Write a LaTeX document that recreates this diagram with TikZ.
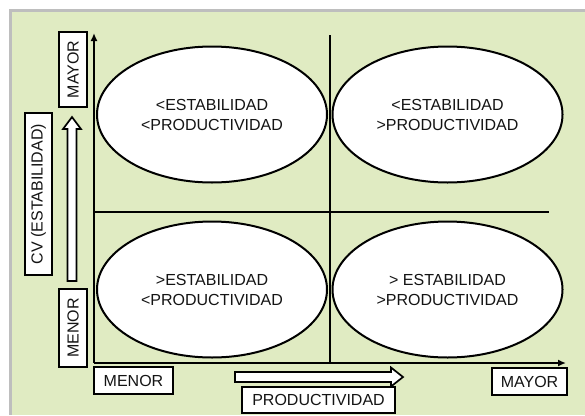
\documentclass[tikz,border=0pt]{standalone}
\usepackage{fontspec}
\setmainfont{Liberation Sans}
\usetikzlibrary{shapes.geometric,arrows.meta}
\definecolor{bggreen}{RGB}{224,235,194}
\definecolor{framegray}{RGB}{190,190,190}
\definecolor{txt}{RGB}{20,20,20}
\tikzset{
  quad/.style={ellipse,draw=black,line width=2pt,fill=white,minimum width=230pt,minimum height=136pt,inner sep=0pt,align=center,text=txt,font=\fontsize{16}{20}\selectfont},
  labelbox/.style={draw=black,line width=2pt,fill=white,inner sep=0pt,text=txt,font=\fontsize{16}{19}\selectfont},
  axisline/.style={line width=2pt,draw=black},
  hollow/.style={draw=black,line width=1.7pt,fill=white,line join=miter}
}
\begin{document}
\begin{tikzpicture}[x=1pt,y=-1pt]
\useasboundingbox (0,0) rectangle (585,415);
\fill[white] (0,0) rectangle (585,415);
\fill[framegray] (9,9) rectangle (585,415);
\fill[bggreen] (12,12) rectangle (585,415);
% axes and dividers
\coordinate (O) at (94,363);
\coordinate (ytop) at (94,33);
\coordinate (xend) at (566,363);
\coordinate (vdtop) at (330,35);
\coordinate (vdbot) at (330,363);
\coordinate (hdl) at (94,212);
\coordinate (hdr) at (549,212);
\draw[axisline] (vdtop) -- (vdbot);
\draw[axisline] (hdl) -- (hdr);
\draw[axisline,-{Latex[length=8pt,width=7pt]}] (O) -- (ytop);
\draw[axisline,-{Latex[length=8pt,width=7pt]}] (O) -- (xend);
% ellipses
\node[quad] (tl) at (212,114.5) {<ESTABILIDAD\\<PRODUCTIVIDAD};
\node[quad] (tr) at (447.5,114.5) {<ESTABILIDAD\\>PRODUCTIVIDAD};
\node[quad] (bl) at (212,289.5) {>ESTABILIDAD\\<PRODUCTIVIDAD};
\node[quad] (br) at (447.5,289.5) {> ESTABILIDAD\\>PRODUCTIVIDAD};
% hollow arrows
\draw[hollow] (67.5,281) -- (67.5,129) -- (63,129) -- (72,117) -- (81,129) -- (76.5,129) -- (76.5,281) -- cycle;
\draw[hollow] (235,372) -- (391,372) -- (391,367.5) -- (403,377) -- (391,386.5) -- (391,382) -- (235,382) -- cycle;
% label boxes
\node[labelbox,rotate=90,minimum width=75pt,minimum height=28pt] (ymayor) at (73,69.5) {MAYOR};
\node[labelbox,rotate=90,minimum width=162pt,minimum height=27pt] (cv) at (38.5,194) {CV (ESTABILIDAD)};
\node[labelbox,rotate=90,minimum width=78pt,minimum height=28pt] (ymenor) at (73,328) {MENOR};
\node[labelbox,minimum width=79pt,minimum height=27pt] (xmenor) at (133.5,380.5) {MENOR};
\node[labelbox,minimum width=153pt,minimum height=26pt] (prod) at (318.5,400) {PRODUCTIVIDAD};
\node[labelbox,minimum width=75pt,minimum height=27pt] (xmayor) at (529.5,381.5) {MAYOR};
\end{tikzpicture}
\end{document}
